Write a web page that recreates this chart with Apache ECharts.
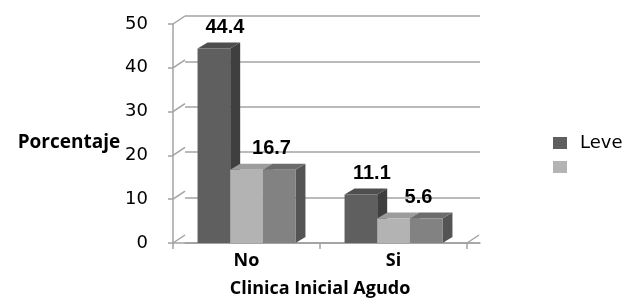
<!DOCTYPE html>
<html>
<head>
<meta charset="utf-8">
<script src="https://cdn.jsdelivr.net/npm/echarts@6/dist/echarts.min.js"></script>
<style>
  html, body { margin: 0; padding: 0; background: #fff; }
  #chart { width: 631px; height: 303px; }
</style>
</head>
<body>
<div id="chart"></div>
<script>
// datos del grafico
const categories = ["No", "Si"];
const leve = [44.4, 11.1];
const serie2 = [16.7, 5.6];
const serie3 = [16.7, 5.6];
const yTicks = [0, 10, 20, 30, 40, 50];

const chart = echarts.init(document.getElementById("chart"));

// profundidad del efecto 3D
const DX = 10, DY = -6;
const WALL_DX = 12, WALL_DY = -8;
const gridColor = "#a3a3a3";

const palette = [
  { front: "#5f5f5f", top: "#4e4e4e", side: "#3f3f3f" },
  { front: "#b3b3b3", top: "#9c9c9c", side: "#8a8a8a" },
  { front: "#828282", top: "#6c6c6c", side: "#545454" },
];

function barRenderer(k, showLabel, labelDx) {
  return function (params, api) {
    const idx = api.value(0);
    const val = api.value(1);
    const base = api.coord([idx, 0]);
    const top = api.coord([idx, val]);
    const band = api.size([1, 0])[0];
    const w = band * 0.222;
    const x0 = base[0] - 1.5 * w + k * w;
    const x1 = x0 + w;
    const yT = top[1];
    const yB = base[1];
    const c = palette[k];
    const children = [
      {
        type: "polygon",
        shape: { points: [[x1, yT], [x1 + DX, yT + DY], [x1 + DX, yB + DY], [x1, yB]] },
        style: { fill: c.side },
      },
      {
        type: "polygon",
        shape: { points: [[x0, yT], [x0 + DX, yT + DY], [x1 + DX, yT + DY], [x1, yT]] },
        style: { fill: c.top },
      },
      {
        type: "rect",
        shape: { x: x0, y: yT, width: w, height: yB - yT },
        style: { fill: c.front },
      },
    ];
    if (showLabel) {
      children.push({
        type: "text",
        z2: 50,
        style: {
          x: (x0 + x1) / 2 + labelDx,
          y: yT - 21,
          text: String(val),
          align: "center",
          verticalAlign: "middle",
          fill: "#000",
          fontFamily: "Liberation Sans",
          fontWeight: "bold",
          fontSize: 20,
        },
      });
    }
    return { type: "group", children: children };
  };
}

// lineas diagonales del piso / pared lateral
function wallRenderer(params, api) {
  const v = api.value(0);
  const p = api.coord([0, v]);
  const band = api.size([1, 0])[0];
  const left = p[0] - band / 2;
  const children = [
    {
      type: "line",
      shape: { x1: left, y1: p[1], x2: left + WALL_DX, y2: p[1] + WALL_DY },
      style: { stroke: gridColor, lineWidth: 1.5 },
    },
  ];
  if (v === 0) {
    const right = p[0] + band * (categories.length - 0.5);
    children.push({
      type: "line",
      shape: { x1: right, y1: p[1], x2: right + WALL_DX, y2: p[1] + WALL_DY },
      style: { stroke: gridColor, lineWidth: 1.5 },
    });
  }
  return { type: "group", children: children };
}

const option = {
  animation: false,
  grid: [
    // pared del fondo
    { left: 185, right: 151, top: 16, bottom: 60 },
    // plano frontal
    { left: 173, right: 164, top: 24, bottom: 52 },
  ],
  legend: {
    orient: "vertical",
    left: 553,
    top: 134,
    padding: 0,
    itemWidth: 14,
    itemHeight: 12,
    itemGap: 6,
    icon: "rect",
    data: ["Leve", "\u00a0"],
    textStyle: {
      fontFamily: "DejaVu Sans",
      fontSize: 18,
      lineHeight: 18,
      color: "#000",
      padding: [0, 0, 0, 8],
    },
  },
  xAxis: [
    {
      gridIndex: 0,
      type: "category",
      data: categories,
      axisLine: { lineStyle: { color: gridColor, width: 1.5 } },
      axisTick: { show: false },
      axisLabel: { show: false },
    },
    {
      gridIndex: 1,
      type: "category",
      data: categories,
      axisLine: { lineStyle: { color: gridColor, width: 1.5 } },
      axisTick: { show: true, length: 6, lineStyle: { color: gridColor, width: 1.5 } },
      axisLabel: {
        margin: 9,
        color: "#000",
        fontFamily: "Open Sans",
        fontWeight: "bold",
        fontSize: 18,
      },
      name: "Clinica Inicial Agudo",
      nameLocation: "middle",
      nameGap: 37,
      nameTextStyle: {
        color: "#000",
        fontFamily: "Open Sans",
        fontWeight: "bold",
        fontSize: 18,
      },
    },
  ],
  yAxis: [
    {
      gridIndex: 0,
      type: "value",
      min: 0,
      max: 50,
      interval: 10,
      axisLine: { show: false },
      axisTick: { show: false },
      axisLabel: { show: false },
      splitLine: { lineStyle: { color: gridColor, width: 1.5 } },
    },
    {
      gridIndex: 1,
      type: "value",
      min: 0,
      max: 50,
      interval: 10,
      axisLine: { show: true, lineStyle: { color: gridColor, width: 1.5 } },
      axisTick: { show: true, inside: false, length: 5, lineStyle: { color: gridColor, width: 1.5 } },
      axisLabel: {
        margin: 25,
        color: "#000",
        fontFamily: "DejaVu Sans",
        fontSize: 18,
      },
      splitLine: { show: false },
      name: "Porcentaje",
      nameLocation: "middle",
      nameRotate: 0,
      nameGap: 52,
      nameTextStyle: {
        color: "#000",
        fontFamily: "Open Sans",
        fontWeight: "bold",
        fontSize: 19,
        align: "right",
        verticalAlign: "top",
      },
    },
  ],
  series: [
    {
      type: "custom",
      name: "pared",
      xAxisIndex: 1,
      yAxisIndex: 1,
      silent: true,
      renderItem: wallRenderer,
      data: yTicks.map((v) => [v]),
      z: 1,
    },
    {
      type: "custom",
      name: "Leve",
      xAxisIndex: 1,
      yAxisIndex: 1,
      itemStyle: { color: palette[0].front },
      renderItem: barRenderer(0, true, 11),
      data: leve.map((v, i) => [i, v]),
      z: 3,
    },
    {
      type: "custom",
      name: "\u00a0",
      xAxisIndex: 1,
      yAxisIndex: 1,
      itemStyle: { color: palette[1].front },
      renderItem: barRenderer(1, true, 25),
      data: serie2.map((v, i) => [i, v]),
      z: 4,
    },
    {
      type: "custom",
      name: "\u00a0\u00a0",
      xAxisIndex: 1,
      yAxisIndex: 1,
      itemStyle: { color: palette[2].front },
      renderItem: barRenderer(2, false, 0),
      data: serie3.map((v, i) => [i, v]),
      z: 5,
    },
  ],
};

chart.setOption(option);
</script>
</body>
</html>
